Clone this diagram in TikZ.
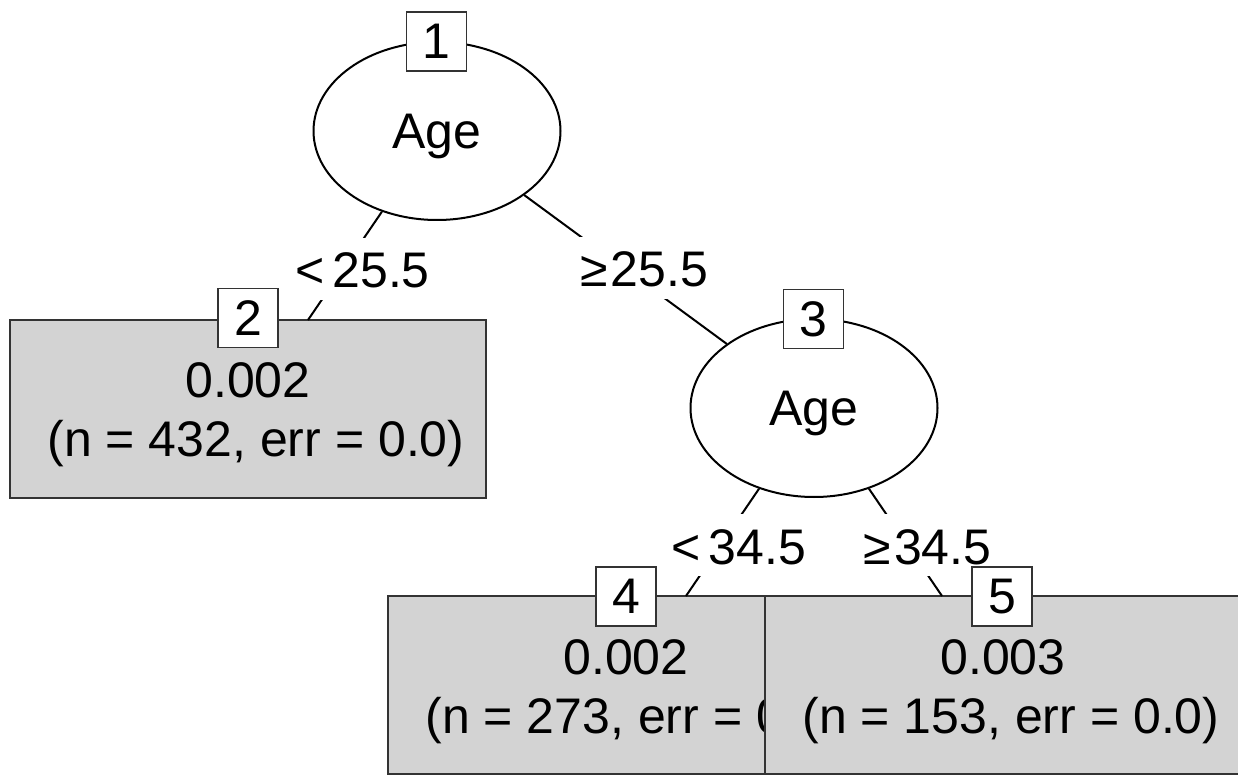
\documentclass[tikz,border=0pt]{standalone}
\usepackage{fontspec}
\setmainfont{Liberation Sans}
\usetikzlibrary{shapes.geometric}
\definecolor{termgray}{HTML}{D3D3D3}
\begin{document}
\begin{tikzpicture}[x=0.5pt,y=-0.5pt,
  font=\fontsize{25pt}{30pt}\selectfont,
  inner/.style={draw=black, line width=1pt, ellipse, minimum width=123.5pt, minimum height=89pt, inner sep=0pt, text depth=0pt},
  leaf/.style={draw=black!80, fill=termgray, line width=1pt, minimum width=238pt, minimum height=89pt, inner sep=0pt},
  idbox/.style={draw=black!80, fill=white, line width=0.8pt, minimum width=30pt, minimum height=29.5pt, inner sep=0pt, text depth=0pt},
  cond/.style={fill=white, inner xsep=2pt, inner ysep=0pt, text height=25pt, text depth=6pt, anchor=base},
  txt/.style={anchor=base, inner sep=0pt},
  edge/.style={line width=1pt, black}]
\useasboundingbox (0,0) rectangle (1238,775);
% inner nodes
\node[inner] (n1) at (437,131) {Age};
\node[inner] (n3) at (814,408) {Age};
% terminal nodes
\node[leaf] (b2) at (248,409) {};
\node[txt] (b2a) at (248,398) {0.002};
\node[txt] (b2b) at (256,457) {(n = 432, err = 0.0)};
\node[leaf] (b4) at (626,685) {};
\node[txt] (b4a) at (626,674) {0.002};
\node[txt] (b4b) at (634,733) {(n = 273, err = 0.0)};
\node[leaf] (b5) at (1003,685) {};
\node[txt] (b5a) at (1003,674) {0.003};
\node[txt] (b5b) at (1011,733) {(n = 153, err = 0.0)};
% edge end points
\coordinate (e2) at (308,320);
\coordinate (e4) at (686,596);
\coordinate (e5) at (942,596);
% edges
\draw[edge] (n1) -- (e2);
\draw[edge] (n1) -- (n3);
\draw[edge] (n3) -- (e4);
\draw[edge] (n3) -- (e5);
% edge labels
\node[cond] (c12) at (362.5,288) {<\hspace{4pt}25.5};
\node[cond] (c13) at (644,287) {≥\hspace{1.5pt}25.5};
\node[cond] (c34) at (739,564) {<\hspace{4pt}34.5};
\node[cond] (c35) at (927.5,564) {≥\hspace{1.5pt}34.5};
% node ids
\node[idbox] (i1) at (436.5,41.5) {1};
\node[idbox] (i2) at (248,318) {2};
\node[idbox] (i3) at (813.5,319) {3};
\node[idbox] (i4) at (626,596.5) {4};
\node[idbox] (i5) at (1002,596.5) {5};
\end{tikzpicture}
\end{document}
